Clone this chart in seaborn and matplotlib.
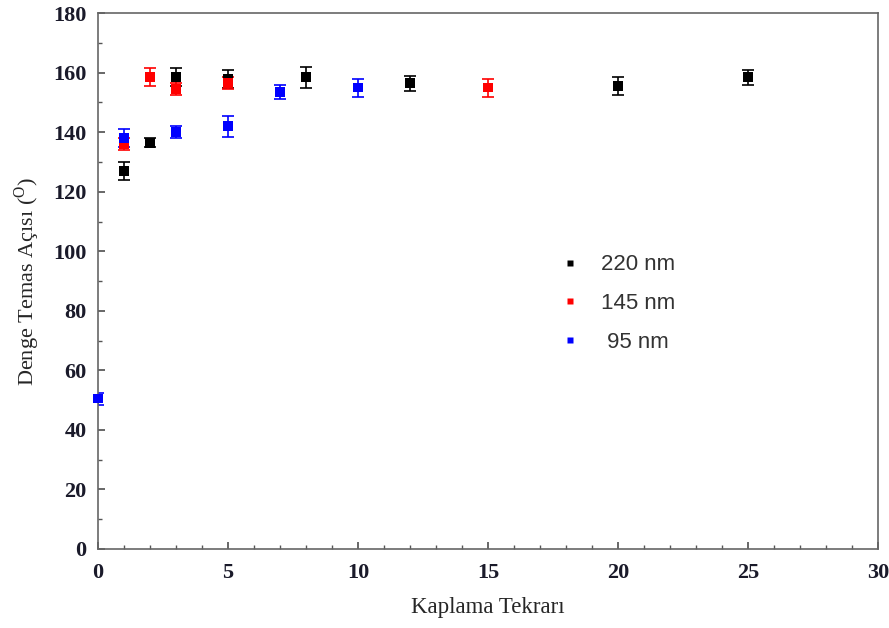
import seaborn as sns
import matplotlib.pyplot as plt
import pandas as pd

sns.set_theme(style="ticks")

# data
x_220 = [1, 2, 3, 5, 8, 12, 20, 25]
y_220 = [127, 136.5, 158.5, 158, 158.5, 156.5, 155.5, 158.5]
e_220 = [3, 1.5, 3, 3, 3.5, 2.5, 3, 2.5]

x_145 = [1, 2, 3, 5, 15]
y_145 = [136, 158.5, 154.5, 156.5, 155]
e_145 = [2, 3, 2, 2, 3]

x_95 = [0, 1, 3, 5, 7, 10]
y_95 = [50.5, 138, 140, 142, 153.5, 155]
e_95 = [2, 3, 2, 3.5, 2.5, 3]

labels = ['220 nm', '145 nm', ' 95 nm']
colors = ['black', 'red', 'blue']

df = pd.DataFrame({
    'Kaplama': x_220 + x_145 + x_95,
    'Aci': y_220 + y_145 + y_95,
    'err': e_220 + e_145 + e_95,
    'Boyut': [labels[0]] * len(x_220) + [labels[1]] * len(x_145) + [labels[2]] * len(x_95),
})

fig = plt.figure(figsize=(8.89, 6.28), dpi=100)
ax = fig.add_axes([0.110, 0.126, 0.878, 0.853])

for lab, col in zip(labels, colors):
    sub = df[df['Boyut'] == lab]
    ax.errorbar(sub['Kaplama'], sub['Aci'], yerr=sub['err'], fmt='none',
                ecolor=col, elinewidth=1.2, capsize=4, capthick=1.2, zorder=2)

sns.scatterplot(data=df, x='Kaplama', y='Aci', hue='Boyut', hue_order=labels,
                palette=colors, marker='s', s=50, edgecolor='none', ax=ax,
                zorder=3, clip_on=False)

ax.set_xlim(0, 30)
ax.set_ylim(0, 180)
ax.set_xticks(range(0, 31, 5))
ax.set_yticks(range(0, 181, 20))
ax.set_xticks(range(0, 31, 1), minor=True)
ax.set_yticks(range(0, 181, 10), minor=True)
ax.tick_params(direction='in', which='both', color='#555555')
ax.tick_params(which='major', length=5)
ax.tick_params(which='minor', length=3)
ax.tick_params(axis='x', which='major', pad=10)
ax.tick_params(axis='y', which='major', pad=8)
for lbl in ax.get_xticklabels() + ax.get_yticklabels():
    lbl.set_family('Liberation Serif')
    lbl.set_fontweight('bold')
    lbl.set_fontsize(16)
    lbl.set_color('#1a1a2a')
for sp in ax.spines.values():
    sp.set_color('#666666')
    sp.set_linewidth(1.2)

ax.set_xlabel('Kaplama Tekrarı', family='Liberation Serif', fontsize=16.5, labelpad=10)
ax.set_ylabel('Denge Temas Açısı (${}^{\\mathregular{O}}$)', family='Liberation Serif',
              fontsize=16, labelpad=8)

leg = ax.legend(loc='upper left', bbox_to_anchor=(0.551, 0.587), frameon=False,
                title=None, labelspacing=0.8, markerscale=0.6,
                handletextpad=0.4, prop={'family': 'Liberation Sans', 'size': 16})
for t in leg.get_texts():
    t.set_color('#333333')

fig.savefig('out.png', dpi=100)
